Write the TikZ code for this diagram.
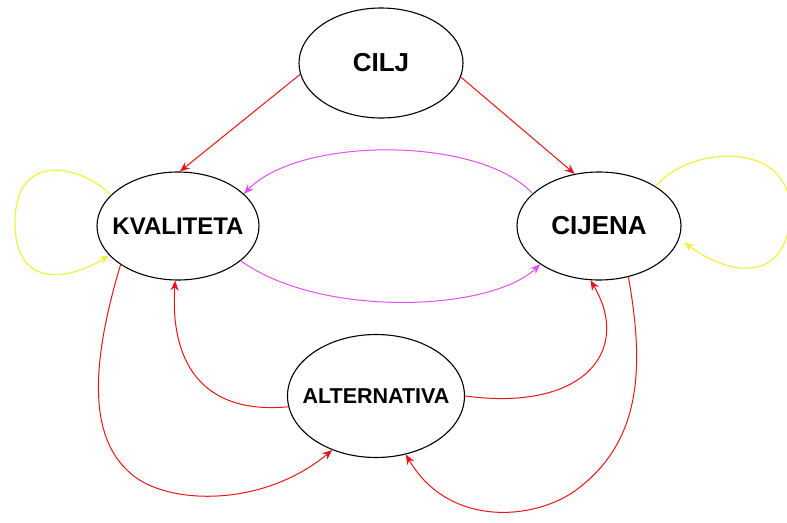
\documentclass[tikz,border=0pt]{standalone}
\usepackage{fontspec}
\setmainfont{Liberation Sans}
\usetikzlibrary{shapes.geometric,arrows.meta}
\definecolor{redline}{RGB}{235,20,20}
\definecolor{magline}{RGB}{225,80,240}
\definecolor{yelline}{RGB}{240,240,70}
\tikzset{
  state/.style={ellipse, draw=black, line width=1.1pt, fill=white, inner sep=0pt, font=\bfseries},
  redarrow/.style={draw=redline, line width=1pt, -{Stealth[length=10pt,width=8pt]}},
  magarrow/.style={draw=magline, line width=1pt, -{Stealth[length=10pt,width=8pt]}},
  yelarrow/.style={draw=yelline, line width=1.2pt, -{Stealth[length=10pt,width=8pt]}},
}
\newcommand{\lbl}[2]{\makebox[0pt]{\fontsize{#1}{#1}\selectfont #2}}
\begin{document}
\begin{tikzpicture}[x=1pt,y=-1pt]
\useasboundingbox[fill=white] (0,0) rectangle (787,522);
\node[state, minimum width=164pt, minimum height=110pt] (cilj) at (381,63) {\lbl{26}{CILJ}};
\node[state, minimum width=162pt, minimum height=108pt] (kv) at (178,226) {\lbl{24}{KVALITETA}};
\node[state, minimum width=164pt, minimum height=108pt] (cij) at (599,226) {\lbl{26}{CIJENA}};
\node[state, minimum width=177pt, minimum height=123pt] (alt) at (376,396) {\lbl{21.5}{ALTERNATIVA}};

% CILJ to KVALITETA and CIJENA
\draw[redarrow] (cilj.-172) -- (kv.88);
\draw[redarrow] (cilj.-10) -- (cij.115);

% magenta arcs
\draw[magarrow] (cij.154) .. controls (480,136) and (300,136) .. (kv.26);
\draw[magarrow] (kv.-29) .. controls (320,318) and (490,312) .. (cij.213);

% yellow self loops
\draw[yelarrow] (kv.155) .. controls (80,165) and (15,150) .. (15,223)
  .. controls (15,290) and (70,280) .. (kv.203);
\draw[yelarrow, shorten >=6pt] (cij.35) .. controls (690,145) and (790,140) .. (790,210)
  .. controls (790,280) and (735,280) .. (cij.-9);

% ALTERNATIVA connections
\draw[redarrow] (alt.-173) .. controls (200,415) and (170,360) .. (kv.-93);
\draw[redarrow] (kv.-146) .. controls (95,350) and (85,430) .. (127,470)
  .. controls (160,505) and (260,510) .. (alt.-129);
\draw[redarrow] (alt.0) .. controls (585,412) and (632,350) .. (cij.-99);
\draw[redarrow] (cij.-60) .. controls (645,370) and (640,440) .. (580,487)
  .. controls (540,520) and (450,530) .. (alt.-63);
\end{tikzpicture}
\end{document}
